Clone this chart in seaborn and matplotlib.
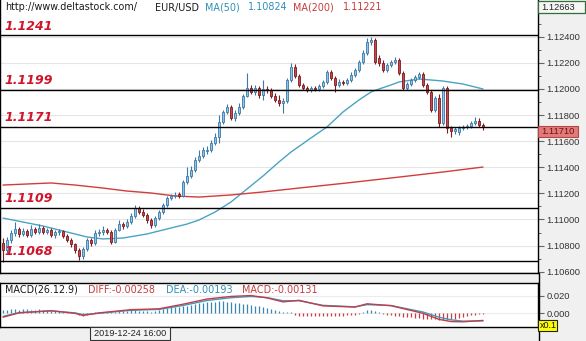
import matplotlib
matplotlib.use("Agg")
import matplotlib.pyplot as plt
import seaborn as sns
import pandas as pd
from matplotlib.patches import Rectangle
from matplotlib.ticker import FixedLocator, MultipleLocator, FormatStrFormatter

# ---------------- data ----------------
opens = [1.10820, 1.10766, 1.10843, 1.10897, 1.10927, 1.10889, 1.10912, 1.10881, 1.10927, 1.10904,
         1.10935, 1.10904, 1.10920, 1.10881, 1.10904, 1.10912, 1.10874, 1.10843, 1.10812, 1.10766,
         1.10720, 1.10774, 1.10843, 1.10820, 1.10897, 1.10904, 1.10920, 1.10904, 1.10828, 1.10920,
         1.10965, 1.10950, 1.10981, 1.11027, 1.11088, 1.11057, 1.11034, 1.10996, 1.10958, 1.11011,
         1.11057, 1.11111, 1.11165, 1.11180, 1.11195, 1.11180, 1.11287, 1.11333, 1.11379, 1.11456,
         1.11487, 1.11525, 1.11533, 1.11586, 1.11632, 1.11747, 1.11824, 1.11862, 1.11778, 1.11816,
         1.11862, 1.11946, 1.12008, 1.11977, 1.12008, 1.11954, 1.12000, 1.11992, 1.11946, 1.11916,
         1.11893, 1.11908, 1.12069, 1.12169, 1.12100, 1.12031, 1.12008, 1.11992, 1.12008, 1.12000,
         1.12023, 1.12054, 1.12130, 1.12084, 1.12031, 1.12054, 1.12046, 1.12069, 1.12107, 1.12146,
         1.12207, 1.12276, 1.12360, 1.12375, 1.12238, 1.12199, 1.12146, 1.12184, 1.12207, 1.12222,
         1.12123, 1.12008, 1.12038, 1.12069, 1.12092, 1.12115, 1.12031, 1.11977, 1.11839, 1.11931,
         1.11739, 1.12008, 1.11701, 1.11678, 1.11670, 1.11701, 1.11709, 1.11716, 1.11739, 1.11755,
         1.11724]
closes = [1.10766, 1.10843, 1.10897, 1.10927, 1.10889, 1.10912, 1.10881, 1.10927, 1.10904, 1.10935,
          1.10904, 1.10920, 1.10881, 1.10904, 1.10912, 1.10874, 1.10843, 1.10812, 1.10766, 1.10720,
          1.10774, 1.10843, 1.10820, 1.10897, 1.10904, 1.10920, 1.10904, 1.10828, 1.10920, 1.10965,
          1.10950, 1.10981, 1.11027, 1.11088, 1.11057, 1.11034, 1.10996, 1.10958, 1.11011, 1.11057,
          1.11111, 1.11165, 1.11180, 1.11188, 1.11180, 1.11287, 1.11333, 1.11379, 1.11456, 1.11487,
          1.11533, 1.11533, 1.11586, 1.11632, 1.11747, 1.11824, 1.11862, 1.11778, 1.11816, 1.11862,
          1.11946, 1.12008, 1.11977, 1.12008, 1.11954, 1.12000, 1.11992, 1.11946, 1.11916, 1.11893,
          1.11908, 1.12069, 1.12169, 1.12100, 1.12031, 1.12008, 1.11992, 1.12008, 1.12000, 1.12023,
          1.12054, 1.12130, 1.12084, 1.12031, 1.12054, 1.12046, 1.12069, 1.12107, 1.12146, 1.12207,
          1.12276, 1.12360, 1.12375, 1.12207, 1.12199, 1.12146, 1.12184, 1.12207, 1.12222, 1.12123,
          1.12008, 1.12038, 1.12069, 1.12092, 1.12115, 1.12031, 1.11977, 1.11839, 1.11931, 1.11739,
          1.12008, 1.11701, 1.11678, 1.11693, 1.11701, 1.11709, 1.11716, 1.11739, 1.11755, 1.11724,
          1.11710]
highs = [1.10858, 1.10866, 1.10920, 1.10981, 1.10942, 1.10935, 1.10927, 1.10958, 1.10942, 1.10965,
         1.10950, 1.10935, 1.10935, 1.10920, 1.10927, 1.10920, 1.10889, 1.10858, 1.10820, 1.10782,
         1.10789, 1.10858, 1.10858, 1.10920, 1.10927, 1.10950, 1.10935, 1.10920, 1.10935, 1.10996,
         1.10981, 1.11004, 1.11050, 1.11111, 1.11103, 1.11080, 1.11050, 1.11011, 1.11027, 1.11073,
         1.11126, 1.11180, 1.11195, 1.11211, 1.11211, 1.11303, 1.11402, 1.11410, 1.11479, 1.11533,
         1.11555, 1.11563, 1.11609, 1.11663, 1.11801, 1.11839, 1.11885, 1.11877, 1.11839, 1.11893,
         1.11962, 1.12123, 1.12031, 1.12031, 1.12023, 1.12069, 1.12023, 1.12008, 1.11969, 1.11954,
         1.11931, 1.12084, 1.12199, 1.12192, 1.12115, 1.12046, 1.12023, 1.12023, 1.12023, 1.12038,
         1.12069, 1.12146, 1.12146, 1.12100, 1.12077, 1.12069, 1.12084, 1.12130, 1.12161, 1.12222,
         1.12299, 1.12391, 1.12398, 1.12391, 1.12261, 1.12222, 1.12199, 1.12222, 1.12245, 1.12238,
         1.12138, 1.12054, 1.12084, 1.12107, 1.12130, 1.12130, 1.12046, 1.11992, 1.11946, 1.11962,
         1.12023, 1.12023, 1.11716, 1.11709, 1.11716, 1.11724, 1.11732, 1.11755, 1.11785, 1.11778,
         1.11739]
lows = [1.10674, 1.10743, 1.10820, 1.10874, 1.10866, 1.10874, 1.10866, 1.10866, 1.10889, 1.10889,
        1.10889, 1.10889, 1.10866, 1.10858, 1.10881, 1.10858, 1.10828, 1.10789, 1.10743, 1.10690,
        1.10697, 1.10758, 1.10797, 1.10805, 1.10874, 1.10881, 1.10889, 1.10812, 1.10820, 1.10912,
        1.10927, 1.10935, 1.10965, 1.11011, 1.11042, 1.11019, 1.10973, 1.10935, 1.10942, 1.10996,
        1.11042, 1.11096, 1.11149, 1.11165, 1.11165, 1.11172, 1.11272, 1.11318, 1.11364, 1.11441,
        1.11471, 1.11502, 1.11517, 1.11571, 1.11586, 1.11732, 1.11808, 1.11762, 1.11755, 1.11801,
        1.11847, 1.11939, 1.11962, 1.11954, 1.11931, 1.11916, 1.11969, 1.11931, 1.11900, 1.11870,
        1.11816, 1.11893, 1.12054, 1.12084, 1.12015, 1.11992, 1.11977, 1.11977, 1.11985, 1.11985,
        1.12008, 1.12038, 1.12069, 1.11977, 1.12015, 1.12031, 1.12031, 1.12054, 1.12092, 1.12130,
        1.12192, 1.12261, 1.12337, 1.12192, 1.12176, 1.12130, 1.12130, 1.12169, 1.12192, 1.12107,
        1.11992, 1.11992, 1.12023, 1.12054, 1.12077, 1.12015, 1.11962, 1.11824, 1.11824, 1.11709,
        1.11724, 1.11663, 1.11632, 1.11655, 1.11647, 1.11686, 1.11693, 1.11701, 1.11724, 1.11709,
        1.11686]

ma50_idx = [0, 10, 15, 21, 25, 30, 36, 42, 46, 49, 53, 57, 61, 65, 69, 72, 77, 81, 85, 89,
            92, 94, 97, 99, 104, 110, 115, 120]
ma50_val = [1.11011, 1.10950, 1.10912, 1.10866, 1.10851, 1.10858, 1.10889, 1.10935, 1.10965,
            1.10996, 1.11057, 1.11134, 1.11234, 1.11333, 1.11441, 1.11517, 1.11625, 1.11709,
            1.11824, 1.11916, 1.11977, 1.12000, 1.12031, 1.12054, 1.12077, 1.12061, 1.12038, 1.12000]
ma200_idx = [0, 6, 12, 18, 25, 31, 37, 43, 49, 57, 65, 74, 86, 99, 110, 120]
ma200_val = [1.11264, 1.11272, 1.11280, 1.11264, 1.11241, 1.11218, 1.11203, 1.11180, 1.11172,
             1.11188, 1.11211, 1.11241, 1.11280, 1.11325, 1.11364, 1.11402]

levels = [1.1241, 1.1199, 1.1171, 1.1109, 1.1068]
level_labels = ["1.1241", "1.1199", "1.1171", "1.1109", "1.1068"]
price_ticks = [1.106, 1.108, 1.110, 1.112, 1.114, 1.116, 1.118, 1.120, 1.122, 1.124]

macd_idx = [0, 4, 12, 18, 20, 24, 32, 39, 45, 51, 57, 62, 66, 70, 74, 80, 88, 91, 97, 105, 109, 112, 115, 120]
diff_val = [-0.0045, 0.0005, 0.0030, 0.0000, -0.0025, 0.0005, 0.0042, 0.0052, 0.0105, 0.0165, 0.0195, 0.0205,
            0.0178, 0.0132, 0.0150, 0.0086, 0.0072, 0.0110, 0.0088, 0.0000, -0.0070, -0.0095, -0.0098, -0.0082]
dea_val = [-0.0035, 0.0008, 0.0028, 0.0005, -0.0015, 0.0000, 0.0035, 0.0045, 0.0090, 0.0148, 0.0180, 0.0195,
           0.0182, 0.0145, 0.0145, 0.0092, 0.0075, 0.0100, 0.0090, 0.0015, -0.0045, -0.0075, -0.0090, -0.0088]
hist = [0.004, 0.004, 0.005, 0.005, 0.004, 0.005, 0.005, 0.004, 0.004, 0.005, 0.004, 0.004, 0.003, 0.003, 0.003, 0.002,
        0.002, 0.001, 0.000, -0.002, -0.003, -0.002, -0.001,
        0.001, 0.002, 0.002, 0.002, 0.001, 0.002, 0.003, 0.003, 0.003, 0.004, 0.004, 0.003, 0.003,
        0.003, 0.002, 0.003, 0.004, 0.005, 0.006, 0.007, 0.007, 0.007,
        0.008, 0.009, 0.010, 0.011, 0.012, 0.012, 0.013, 0.013, 0.013, 0.014, 0.014, 0.013, 0.013, 0.012, 0.012, 0.011, 0.011, 0.010,
        0.009, 0.008, 0.007, 0.006, 0.005, 0.004, 0.003, 0.002, 0.002, 0.001,
        -0.002, -0.003, -0.003, -0.003, -0.003, -0.003, -0.003, -0.003, -0.003, -0.003, -0.003, -0.003, -0.003, -0.002, -0.002, -0.002, -0.001, 0.002,
        0.004, 0.004, 0.003, 0.002, -0.001,
        -0.002, -0.002, -0.003, -0.003, -0.004, -0.004, -0.004, -0.005, -0.005, -0.006, -0.006, -0.007, -0.007, -0.008, -0.008,
        -0.008, -0.007, -0.006, -0.005, -0.004, -0.003, -0.002, -0.002, -0.001, -0.001]
macd_ticks = [0.0, 0.02]

header_items = [("http://www.deltastock.com/", 5, "#1a1a1a"), ("EUR/USD", 155, "#1a1a1a"),
                ("MA(50)", 205, "#2e8fb5"), ("1.10824", 248, "#2e8fb5"),
                ("MA(200)", 293, "#c83a3a"), ("1.11221", 343, "#c83a3a")]
macd_items = [("MACD(26.12.9)", 5, "#1a1a1a"), ("DIFF:-0.00258", 88, "#c83a3a"),
              ("DEA:-0.00193", 166, "#2e8fb5"), ("MACD:-0.00131", 242, "#c83a3a")]
top_value = "1.12663"
last_value = "1.11710"
date_label = "2019-12-24 16:00"

# ---------------- style ----------------
sns.set_theme(style="white")
plt.rcParams["font.family"] = ["DejaVu Sans"]

W, H = 586, 341
fig = plt.figure(figsize=(W / 100, H / 100), dpi=100, facecolor="#f0f0f0")

def fx(px):
    return px / W

def fy(py):
    return 1 - py / H

# main price axes
ax = fig.add_axes([0, fy(273), fx(538), 273 / H])
ax.set_facecolor("white")
ax.set_xlim(-0.75, 133.75)
ax.set_ylim(1.10590, 1.12682)

df = pd.DataFrame({"o": opens, "c": closes, "h": highs, "l": lows})
df["i"] = range(len(df))
df["up"] = df["c"] >= df["o"]

up_fill, up_edge = "#8cc6e8", "#3f78a6"
dn_fill, dn_edge = "#cc474d", "#7a1c20"
for _, r in df.iterrows():
    edge = up_edge if r.up else dn_edge
    fill = up_fill if r.up else dn_fill
    ax.vlines(r.i, r.l, r.h, colors=edge, lw=0.8, zorder=3)
    lo = min(r.o, r.c)
    hgt = max(abs(r.c - r.o), 0.00002)
    ax.bar(r.i, hgt, bottom=lo, width=0.72, color=fill, edgecolor=edge, linewidth=0.6, zorder=4)

ma50 = pd.DataFrame({"i": ma50_idx, "v": ma50_val})
ma200 = pd.DataFrame({"i": ma200_idx, "v": ma200_val})
sns.lineplot(data=ma50, x="i", y="v", ax=ax, color="#4aa3c4", lw=1.0, zorder=2)
sns.lineplot(data=ma200, x="i", y="v", ax=ax, color="#d23c3c", lw=1.0, zorder=2)

for lv, lab in zip(levels, level_labels):
    ax.axhline(lv, color="black", lw=1.0, zorder=5)
    ax.annotate(lab, xy=(0, lv), xycoords=("axes fraction", "data"), xytext=(3, 4.3),
                textcoords="offset points", fontsize=9, fontweight="bold", fontstyle="italic",
                color="#d0142a", va="baseline", ha="left", zorder=6)

ax.yaxis.tick_right()
ax.yaxis.set_major_locator(FixedLocator(price_ticks))
ax.yaxis.set_minor_locator(MultipleLocator(0.001))
ax.yaxis.set_major_formatter(FormatStrFormatter("%.5f"))
ax.tick_params(axis="y", which="major", right=True, length=4, width=0.8, color="#666666",
               labelsize=6.7, pad=2, labelcolor="#333333")
ax.tick_params(axis="y", which="minor", right=True, length=2, width=0.7, color="#666666")
for lab in ax.get_yticklabels():
    lab.set_fontfamily("Liberation Sans")
ax.set_xticks([])
ax.set_xlabel("")
ax.set_ylabel("")
ax.grid(axis="y", which="major", color="#e6e6e6", lw=0.8, zorder=0)
for s in ["left", "right", "bottom"]:
    ax.spines[s].set_color("black")
    ax.spines[s].set_linewidth(1.0)
ax.spines["top"].set_visible(False)

# MACD axes
mx = fig.add_axes([0, fy(327), fx(538), 44 / H])
mx.set_facecolor("white")
mx.set_xlim(-0.75, 133.75)
mx.set_ylim(-0.0158, 0.0350)
hist_colors = ["#3a86b0" if v >= 0 else "#c43c44" for v in hist]
mx.vlines(range(len(hist)), 0, hist, colors=hist_colors, lw=0.9, zorder=2)
macd = pd.DataFrame({"i": macd_idx, "diff": diff_val, "dea": dea_val})
sns.lineplot(data=macd, x="i", y="dea", ax=mx, color="#3aa0b8", lw=1.0, zorder=3)
sns.lineplot(data=macd, x="i", y="diff", ax=mx, color="#c83a4a", lw=1.0, zorder=3)
mx.yaxis.tick_right()
mx.yaxis.set_major_locator(FixedLocator(macd_ticks))
mx.yaxis.set_major_formatter(FormatStrFormatter("%.3f"))
mx.tick_params(axis="y", which="major", right=True, length=4, width=0.8, color="#666666",
               labelsize=6.7, pad=2, labelcolor="#333333")
for lab in mx.get_yticklabels():
    lab.set_fontfamily("Liberation Sans")
mx.set_xticks([])
mx.set_xlabel("")
mx.set_ylabel("")
mx.grid(axis="y", color="#ececec", lw=0.8, zorder=0)
for s in mx.spines.values():
    s.set_color("black")
    s.set_linewidth(1.0)

# header texts
for txt, x, col in header_items:
    fig.text(fx(x), fy(7.5), txt, fontsize=6.9, color=col, va="center", ha="left")
for txt, x, col in macd_items:
    fig.text(fx(x), fy(290), txt, fontsize=6.9, color=col, va="center", ha="left")

# right-side boxes
fig.patches.append(Rectangle((fx(538), fy(13)), fx(47), 12 / H, transform=fig.transFigure,
                             facecolor="#f6f6f6", edgecolor="#2f6e3a", lw=0.9, zorder=5))
fig.text(fx(541), fy(7), top_value, fontsize=6.7, family="Liberation Sans", color="#222222",
         va="center", ha="left", zorder=6)
fig.patches.append(Rectangle((fx(538), fy(137)), fx(40), 11 / H, transform=fig.transFigure,
                             facecolor="#e27a7a", edgecolor="#b04848", lw=0.8, zorder=5))
fig.text(fx(541), fy(131.5), last_value, fontsize=6.7, family="Liberation Sans", color="#6e1010",
         va="center", ha="left", zorder=6)
fig.patches.append(Rectangle((fx(538), fy(331)), fx(19), 11 / H, transform=fig.transFigure,
                             facecolor="#ffff00", edgecolor="#222222", lw=0.8, zorder=5))
fig.text(fx(539.5), fy(325.5), "x0.1", fontsize=6.5, family="Liberation Sans", color="#111111",
         va="center", ha="left", zorder=6)

# vertical divider through bottom band and date box
fig.add_artist(plt.Line2D([fx(538.5), fx(538.5)], [0, fy(273)], transform=fig.transFigure,
                          color="black", lw=1.0))
fig.patches.append(Rectangle((fx(90), fy(340)), fx(80), 13 / H, transform=fig.transFigure,
                             facecolor="#f4f4f4", edgecolor="#333333", lw=0.8, zorder=5))
fig.text(fx(130), fy(333.5), date_label, fontsize=6.6, family="Liberation Sans", color="#222222",
         va="center", ha="center", zorder=6)

fig.savefig("out.png", dpi=100, facecolor=fig.get_facecolor())
